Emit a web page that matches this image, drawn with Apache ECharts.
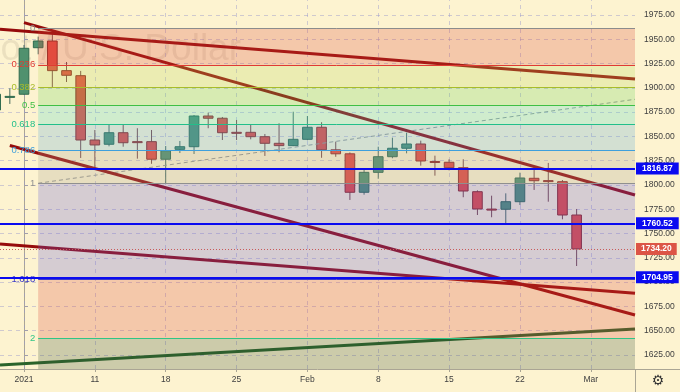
<!DOCTYPE html>
<html><head><meta charset="utf-8">
<script src="https://cdn.jsdelivr.net/npm/echarts@6/dist/echarts.min.js"></script>
<style>html,body{margin:0;padding:0;background:#fdf3d0;}#c{width:680px;height:392px;}</style>
</head><body><div id="c"></div>
<script>
// ---- data (trading-day index: 0 = 4 Jan 2021) ----
const dayIdx = [-2,-1,0,1,2,3,4,5,6,7,8,9,10,11,12,13,14,15,16,17,18,19,20,21,22,23,24,25,26,27,28,29,30,31,32,33,34,35,36,37,38,39];
const opens  = [1877.2,1890.6,1893.4,1941.3,1948.2,1917.7,1912.5,1846.3,1841.9,1853.8,1844.6,1844.6,1826.5,1836.7,1839.4,1871.0,1868.7,1854.2,1854.2,1849.7,1842.9,1840.5,1847.0,1859.4,1836.2,1832.1,1792.5,1813.0,1829.1,1837.8,1842.2,1824.2,1823.4,1817.8,1793.1,1775.2,1775.0,1782.8,1806.9,1804.5,1803.4,1769.1];
const closes = [1893.4,1891.2,1940.7,1948.2,1917.7,1912.9,1846.3,1841.2,1853.8,1843.5,1844.2,1826.5,1835.3,1839.4,1871.0,1868.7,1853.8,1854.0,1849.7,1842.9,1840.5,1847.0,1859.4,1836.2,1832.1,1792.5,1813.0,1829.1,1837.8,1842.2,1824.7,1823.8,1817.8,1793.8,1775.3,1775.0,1782.8,1807.2,1804.4,1804.3,1769.1,1734.2];
const lows   = [1873.5,1883.4,1893.0,1934.5,1900.6,1906.0,1827.8,1818.5,1839.8,1839.4,1827.1,1821.8,1801.2,1832.9,1831.9,1858.4,1846.3,1846.3,1847.0,1829.9,1833.7,1840.0,1846.0,1828.0,1829.0,1784.6,1790.0,1806.4,1827.5,1832.6,1819.9,1809.6,1815.0,1787.4,1769.1,1766.8,1760.0,1779.4,1794.9,1782.8,1764.7,1716.6];
const highs  = [1896.0,1899.5,1944.1,1952.7,1956.5,1926.6,1917.4,1856.6,1862.5,1862.5,1858.4,1856.6,1840.1,1845.3,1872.0,1874.4,1870.0,1866.9,1861.8,1852.5,1863.5,1875.4,1871.0,1864.6,1844.6,1833.5,1815.5,1839.4,1848.7,1853.8,1845.6,1830.2,1826.5,1826.5,1794.5,1789.0,1791.4,1812.7,1815.4,1822.7,1805.1,1775.3];

const xTickIdx = [0,5,10,15,20,25,30,35,40];
const xTickLabels = ['2021','11','18','25','Feb','8','15','22','Mar'];
const yTicks = [1625,1650,1675,1700,1725,1750,1775,1800,1825,1850,1875,1900,1925,1950,1975];

const fibRatios = [0,0.236,0.382,0.5,0.618,0.786,1,1.618,2];
const fibLabels = ['0','0.236','0.382','0.5','0.618','0.786','1','1.618','2'];
const fibHigh = 1961.4, fibLow = 1801.8, fibStartIdx = 1.0;

const hLevels = [1816.87, 1760.52, 1704.95];
const lastClose = 1734.20;

// trend lines: [[x1,y1],[x2,y2]]
const trendRed = [
  [[-1.694,1960.3],[43.12,1909.1]],
  [[0,1967.1],[43.12,1789.7]],
  [[-1.0,1840.7],[43.12,1666.2]],
  [[-1.694,1739.3],[43.12,1688.5]]
];
const trendGreen = [[-1.694,1614.7],[43.12,1651.8]];
const trendDashed = [[1.0,1801.8],[43.12,1888.2]];

// ---- styling ----
const xMin = -1.694, xMax = 43.12, yMin = 1610.6, yMax = 1990.4;
const FONT = 'Liberation Sans, Arial, sans-serif';
const levelColors = ['#8c8c8c','#e03a34','#a8bc2a','#3fbf45','#22bf8a','#3f9fdc','#8f8f8f','#3a3ac8','#30c585'];
const bandColors = ['rgba(221,71,56,0.25)','rgba(185,215,88,0.25)','rgba(105,211,88,0.25)','rgba(73,215,196,0.25)','rgba(89,167,216,0.25)','rgba(169,159,144,0.25)','rgba(97,87,216,0.25)','rgba(221,71,56,0.25)','rgba(61,83,56,0.25)'];

const fibPrice = r => fibHigh - r*(fibHigh-fibLow);

const candleData = dayIdx.map((d,i)=>[d,opens[i],closes[i],lows[i],highs[i]]);

const chart = echarts.init(document.getElementById('c'), null, {renderer:'canvas'});

const bandAreas = [];
for (let i=0;i<fibRatios.length;i++){
  const top = fibPrice(fibRatios[i]);
  const bot = i+1<fibRatios.length ? fibPrice(fibRatios[i+1]) : yMin;
  bandAreas.push([{coord:[fibStartIdx, top], itemStyle:{color:bandColors[i]}},{coord:[xMax, bot]}]);
}
const levelLines = fibRatios.map((r,i)=>[
  {coord:[fibStartIdx, fibPrice(r)], lineStyle:{color:levelColors[i], width:1, type:'solid'},
   label:{show:true, position:'start', formatter:fibLabels[i], color:levelColors[i], fontSize:9.5, fontFamily:FONT, distance:3}},
  {coord:[xMax, fibPrice(r)]}
]);

const gridLines = yTicks.map(v=>({yAxis:v})).concat(xTickIdx.map(v=>({xAxis:v})));

const series = [
  {type:'line', data:[], z:1, silent:true,
   markLine:{z:1, silent:true, symbol:['none','none'], label:{show:false},
     lineStyle:{color:'rgba(150,150,205,0.45)', type:[4,4], width:1}, data:gridLines, animation:false}},
  {type:'custom', z:2, clip:true, data:candleData, encode:{x:0,y:[1,2,3,4]},
   renderItem:function(params, api){
     const x=api.value(0), o=api.value(1), c=api.value(2), l=api.value(3), h=api.value(4);
     const up = c>=o;
     const pH=api.coord([x,h]), pL=api.coord([x,l]), pO=api.coord([x,o]), pC=api.coord([x,c]);
     const bw = api.size([1,0])[0]*0.68;
     const top = Math.min(pO[1],pC[1]);
     let hg = Math.abs(pO[1]-pC[1]); if (hg<1) hg=1;
     const fill = up ? '#50916e' : '#e44c40';
     const stroke = up ? '#2f6a4e' : '#8e2a24';
     const wick = up ? '#4d6e5e' : '#7a4a45';
     return {type:'group', children:[
       {type:'line', shape:{x1:pH[0],y1:pH[1],x2:pL[0],y2:pL[1]}, style:{stroke:wick, lineWidth:1}},
       {type:'rect', shape:{x:pH[0]-bw/2, y:top, width:bw, height:hg}, style:{fill:fill, stroke:stroke, lineWidth:1}}
     ]};
   }},
  {type:'line', z:3, data:trendDashed, symbol:'none', silent:true,
   lineStyle:{color:'#9a9a90', width:1, type:[4,3]}},
];
trendRed.forEach(seg=>series.push({type:'line', z:3, data:seg, symbol:'none', silent:true,
   lineStyle:{color:'#960b0b', width:3}}));
series.push({type:'line', z:3, data:trendGreen, symbol:'none', silent:true, lineStyle:{color:'#2a632a', width:3}});
series.push({type:'line', z:10, data:[], silent:true,
   markArea:{z:10, silent:true, data:bandAreas, animation:false}});
series.push({type:'line', z:11, data:[], silent:true,
   markLine:{z:11, silent:true, symbol:['none','none'], data:levelLines, animation:false}});
series.push({type:'line', z:12, data:[], silent:true,
   markLine:{z:12, silent:true, symbol:['none','none'], animation:false,
     data: hLevels.map(v=>({yAxis:v, lineStyle:{color:'#0a0af0', width:2, type:'solid'},
        label:{show:true, position:'end', formatter:v.toFixed(2), color:'#fff', fontWeight:'bold', fontSize:8.5, fontFamily:FONT,
               backgroundColor:'#0a0af0', padding:[2,6,1,6], distance:1}}))
       .concat([{yAxis:lastClose, lineStyle:{color:'#c85a5a', width:1, type:[1,2]},
        label:{show:true, position:'end', formatter:lastClose.toFixed(2), color:'#fff', fontWeight:'bold', fontSize:8.5, fontFamily:FONT,
               backgroundColor:'#dc5546', padding:[2,5,1,5], distance:1}}])
   }});

const option = {
  animation:false,
  backgroundColor:'#fdf3d0',
  grid:{left:0, right:45, top:0, bottom:23, containLabel:false},
  xAxis:{type:'value', min:xMin, max:xMax,
    axisLine:{show:true, lineStyle:{color:'#aaa594', width:1}},
    axisTick:{show:true, customValues:xTickIdx, length:3, lineStyle:{color:'#aaa594'}},
    axisLabel:{customValues:xTickIdx, formatter:v=>{const k=xTickIdx.indexOf(v);return k>=0?xTickLabels[k]:'';},
      color:'#404040', fontSize:8.5, fontFamily:FONT, margin:6},
    splitLine:{show:false}},
  yAxis:{type:'value', position:'right', min:yMin, max:yMax, scale:true,
    axisLine:{show:true, lineStyle:{color:'#aaa594', width:1}},
    axisTick:{show:true, customValues:yTicks, length:4, lineStyle:{color:'#aaa594'}},
    axisLabel:{customValues:yTicks, formatter:v=>v.toFixed(2), color:'#404040', fontSize:8.5, fontFamily:FONT, margin:9},
    splitLine:{show:false}},
  graphic:[
    {type:'text', z:0, silent:true, style:{text:'Gold Spot / U.S. Dollar', x:241, y:50, align:'right', verticalAlign:'middle',
      font:'37px Liberation Sans, Arial, sans-serif', fill:'rgba(110,90,70,0.12)'}},
    {type:'line', z:10, silent:true, shape:{x1:635.5,y1:369,x2:635.5,y2:392}, style:{stroke:'#aaa594', lineWidth:1}},
    {type:'line', z:10, silent:true, shape:{x1:635,y1:369.5,x2:680,y2:369.5}, style:{stroke:'#aaa594', lineWidth:1}},
    {type:'text', z:10, silent:true, style:{text:'⚙', x:658, y:381, align:'center', verticalAlign:'middle',
      font:'14px DejaVu Sans, sans-serif', fill:'#333'}}
  ],
  series:series
};
chart.setOption(option);
</script></body></html>
